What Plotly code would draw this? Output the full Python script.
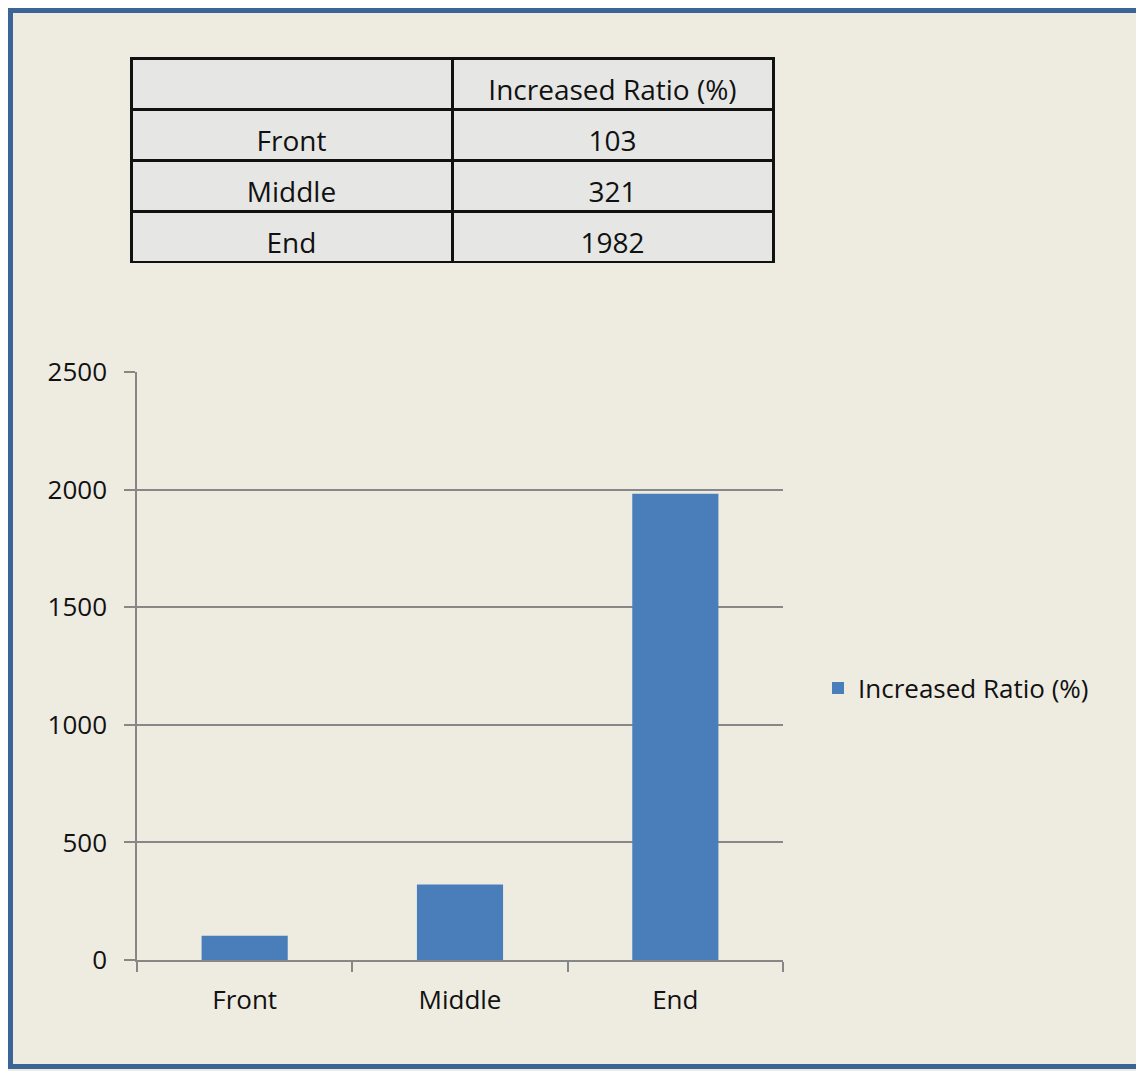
import plotly.graph_objects as go

categories = ["Front", "Middle", "End"]
ratio_values = [103, 321, 1982]
series_name = "Increased Ratio (%)"
header_labels = ["", "Increased Ratio (%)"]
y_tick_values = [0, 500, 1000, 1500, 2000, 2500]

# the page body has an 8px margin, so the figure is shifted by 8px
OFF = 8
W, H = 1144 - OFF, 1071 - OFF


def fx(x):
    return (x - OFF) / W


def fy(y):
    return 1 - (y - OFF) / H


BG = "#EEEBE1"
GRID = "#878787"
TXT = "#111111"
FONT = "Open Sans"
TABLE_FONT = 28
CELL_FILL = "#E6E7E5"
TEXT_DROP = 13  # table text sits lower in its cells than plotly's default

n_rows = len(categories)
blank = [["" for _ in categories], ["" for _ in categories]]

fig = go.Figure()

# grid of the table (fills and borders)
fig.add_trace(go.Table(
    domain=dict(x=[fx(131), fx(773)], y=[fy(264), fy(58)]),
    columnwidth=[1, 1],
    header=dict(values=["", ""], fill_color=CELL_FILL,
                line=dict(color="#111111", width=3), height=51,
                font=dict(family=FONT, size=TABLE_FONT, color=TXT)),
    cells=dict(values=blank, fill_color=CELL_FILL,
               line=dict(color="#111111", width=3), height=51,
               font=dict(family=FONT, size=TABLE_FONT, color=TXT)),
))

# text of the table
fig.add_trace(go.Table(
    domain=dict(x=[fx(131), fx(773)], y=[fy(264 + TEXT_DROP), fy(58 + TEXT_DROP)]),
    columnwidth=[1, 1],
    header=dict(
        values=header_labels,
        fill_color="rgba(0,0,0,0)",
        line=dict(color="rgba(0,0,0,0)", width=0),
        font=dict(family=FONT, size=TABLE_FONT, color=TXT),
        height=51,
        align="center",
    ),
    cells=dict(
        values=[categories, [str(v) for v in ratio_values]],
        fill_color="rgba(0,0,0,0)",
        line=dict(color="rgba(0,0,0,0)", width=0),
        font=dict(family=FONT, size=TABLE_FONT, color=TXT),
        height=51,
        align="center",
    ),
))

fig.add_trace(go.Bar(
    x=categories,
    y=ratio_values,
    name=series_name,
    marker=dict(color="#4A7EBB", line=dict(width=0)),
    showlegend=True,
))

fig.update_layout(
    width=W,
    height=H,
    paper_bgcolor=BG,
    plot_bgcolor=BG,
    margin=dict(l=0, r=0, t=0, b=0),
    bargap=0.6,
    showlegend=True,
    font=dict(family=FONT, size=26, color=TXT),
    legend=dict(
        x=fx(818), y=fy(688), xanchor="left", yanchor="middle",
        bgcolor="rgba(0,0,0,0)", font=dict(family=FONT, size=26, color=TXT),
    ),
    xaxis=dict(
        domain=[fx(137), fx(783)],
        showline=True, linecolor=GRID, linewidth=1.5,
        ticks="outside", tickson="boundaries", ticklen=10, tickcolor=GRID, tickwidth=1.5,
        showgrid=False, automargin=False,
        tickfont=dict(family=FONT, size=26, color=TXT),
        ticklabelstandoff=16,
    ),
    yaxis=dict(
        domain=[fy(960), fy(372)],
        range=[0, 2500],
        tickvals=y_tick_values,
        showline=True, linecolor=GRID, linewidth=1.5,
        ticks="outside", ticklen=11, tickcolor=GRID, tickwidth=1.5,
        showgrid=True, gridcolor=GRID, gridwidth=1.5,
        zeroline=False, automargin=False,
        tickfont=dict(family=FONT, size=26, color=TXT),
        ticklabelstandoff=12,
    ),
    shapes=[dict(
        type="rect", xref="paper", yref="paper",
        x0=fx(10.5), x1=fx(1141.5), y0=fy(1066.5), y1=fy(10.5),
        line=dict(color="#3C6597", width=5), fillcolor="rgba(0,0,0,0)",
        layer="above",
    )],
)

fig.write_html("out.html")
